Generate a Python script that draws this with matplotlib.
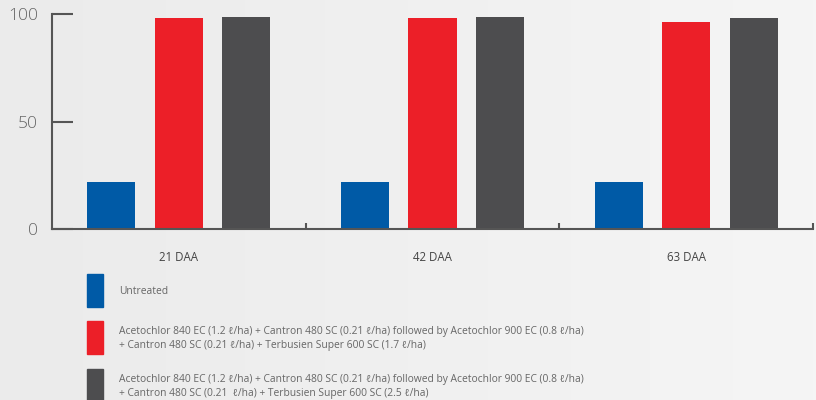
import numpy as np
import matplotlib
matplotlib.use('Agg')
import matplotlib.pyplot as plt
from matplotlib.patches import Rectangle

plt.rcParams['font.family'] = ['Open Sans', 'DejaVu Sans']

categories = ['21 DAA', '42 DAA', '63 DAA']
untreated = [22, 22, 22]
treatment_17 = [98, 98, 96.5]
treatment_25 = [98.5, 98.5, 98]
series_labels = [
    'Untreated',
    'Acetochlor 840 EC (1.2 \u2113/ha) + Cantron 480 SC (0.21 \u2113/ha) followed by Acetochlor 900 EC (0.8 \u2113/ha)\n'
    '+ Cantron 480 SC (0.21 \u2113/ha) + Terbusien Super 600 SC (1.7 \u2113/ha)',
    'Acetochlor 840 EC (1.2 \u2113/ha) + Cantron 480 SC (0.21 \u2113/ha) followed by Acetochlor 900 EC (0.8 \u2113/ha)\n'
    '+ Cantron 480 SC (0.21  \u2113/ha) + Terbusien Super 600 SC (2.5 \u2113/ha)',
]
colors = ['#005aa6', '#ec1f28', '#4d4d4f']
yticks = [0, 50, 100]

fig = plt.figure(figsize=(8.16, 4), dpi=100)

# light grey gradient background
bg = fig.add_axes([0, 0, 1, 1], zorder=-10)
grad = np.linspace(0, 1, 256).reshape(1, -1)
bg.imshow(grad, aspect='auto', cmap=matplotlib.colors.LinearSegmentedColormap.from_list(
    'bg', ['#ebebeb', '#f5f5f5']), extent=[0, 1, 0, 1])
bg.axis('off')

ax = fig.add_axes([52 / 816, 1 - 229 / 400, (813 - 52) / 816, (229 - 14) / 400])
ax.patch.set_alpha(0)

x = np.arange(len(categories))
w = 0.19
step = 0.266
for i, vals in enumerate([untreated, treatment_17, treatment_25]):
    ax.bar(x + (i - 1) * step, vals, width=w, color=colors[i], zorder=1)

ax.set_xlim(-0.5, 2.5)
ax.set_ylim(0, 100)
for s in ['top', 'right']:
    ax.spines[s].set_visible(False)
for s in ['left', 'bottom']:
    ax.spines[s].set_color('#555555')
    ax.spines[s].set_linewidth(1.5)
    ax.spines[s].set_zorder(3)

ax.set_yticks(yticks)
ax.tick_params(axis='y', direction='in', length=15, width=1.5, color='#555555',
               labelsize=12.5, labelcolor='#666666', pad=10)
for t in ax.get_yticklabels():
    t.set_fontweight(300)
ax.set_xticks(x)
ax.set_xticklabels(categories)
ax.tick_params(axis='x', which='major', length=0, labelsize=8.3, labelcolor='#444444', pad=16)
ax.set_xticks([0.5, 1.5, 2.5], minor=True)
ax.tick_params(axis='x', which='minor', direction='in', length=4, width=1.5, color='#555555')

# legend
sq_y = [274, 321, 369]
sq_h = 33
for c, y0, lab in zip(colors, sq_y, series_labels):
    fig.patches.append(Rectangle((87 / 816, 1 - (y0 + sq_h) / 400), 16 / 816, sq_h / 400,
                                 transform=fig.transFigure, color=c, figure=fig))
    fig.text(119 / 816, 1 - (y0 + sq_h / 2 + 1) / 400, lab, fontsize=7.4, color='#666666',
             va='center', ha='left', linespacing=1.45)

fig.savefig('out.png', dpi=100)
